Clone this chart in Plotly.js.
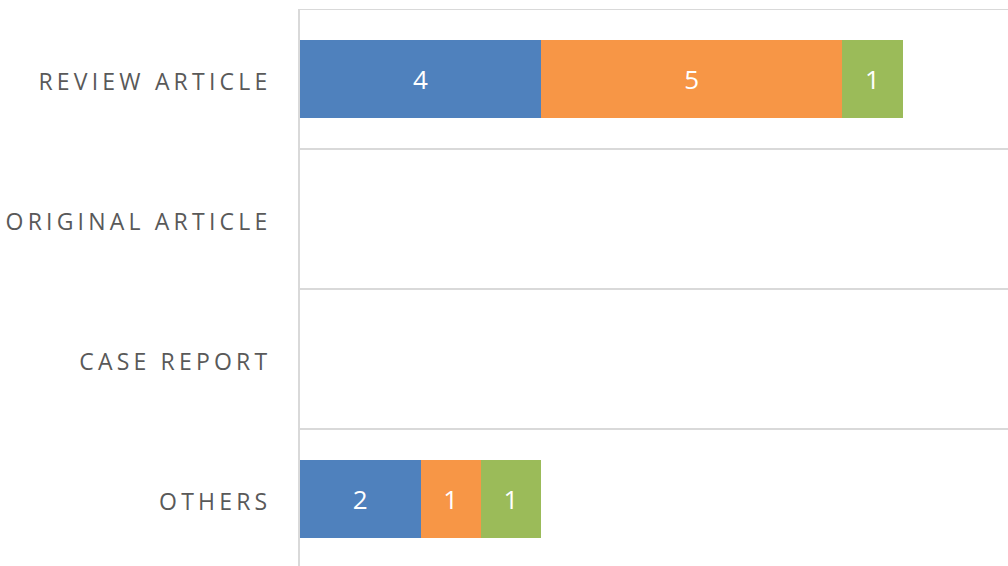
<!DOCTYPE html>
<html>
<head>
<meta charset="utf-8">
<script src="https://cdn.plot.ly/plotly-3.0.1.min.js"></script>
<style>
html,body{margin:0;padding:0;background:#fff;}
#chart{width:1008px;height:566px;}
.ytick text{letter-spacing:4.2px;}
</style>
</head>
<body>
<div id="chart"></div>
<script>
const categories = ["REVIEW ARTICLE", "ORIGINAL ARTICLE", "CASE REPORT", "OTHERS"];
const series1 = [4, null, null, 2];
const series2 = [5, null, null, 1];
const series3 = [1, null, null, 1];
const seriesNames = ["Series1", "Series2", "Series3"];
const colors = ["#4f81bd", "#f79646", "#9bbb59"];

const allSeries = [series1, series2, series3];
const traces = allSeries.map((vals, i) => ({
  type: "bar",
  orientation: "h",
  name: seriesNames[i],
  y: categories,
  x: vals,
  marker: {color: colors[i]},
  text: vals.map(v => v == null ? "" : String(v)),
  textposition: "inside",
  insidetextanchor: "middle",
  constraintext: "none",
  textfont: {color: "#ffffff", size: 26, family: "Open Sans, sans-serif"},
  hoverinfo: "x+y+name"
}));

const layout = {
  width: 1008,
  height: 566,
  margin: {l: 300, r: 0, t: 9, b: 0, pad: 0},
  barmode: "stack",
  bargap: 0.443,
  showlegend: false,
  paper_bgcolor: "#ffffff",
  plot_bgcolor: "#ffffff",
  xaxis: {
    range: [0, 11.75],
    showticklabels: false,
    showgrid: false,
    zeroline: false,
    showline: false,
    fixedrange: true
  },
  yaxis: {
    type: "category",
    categoryorder: "array",
    categoryarray: categories,
    range: [3.4786, -0.5],
    tickson: "boundaries",
    ticks: "",
    showgrid: true,
    gridcolor: "#d9d9d9",
    gridwidth: 2,
    showline: true,
    linecolor: "#d9d9d9",
    linewidth: 2,
    ticklabelstandoff: 22,
    ticklabelshift: -3,
    tickfont: {family: "Open Sans, sans-serif", size: 23, color: "#595959"},
    fixedrange: true
  },
  shapes: [
    {type: "line", xref: "paper", yref: "y", x0: 0, x1: 1, y0: -0.5, y1: -0.5,
     line: {color: "#d9d9d9", width: 2}}
  ]
};

Plotly.newPlot("chart", traces, layout, {displayModeBar: false, staticPlot: true});
</script>
</body>
</html>
